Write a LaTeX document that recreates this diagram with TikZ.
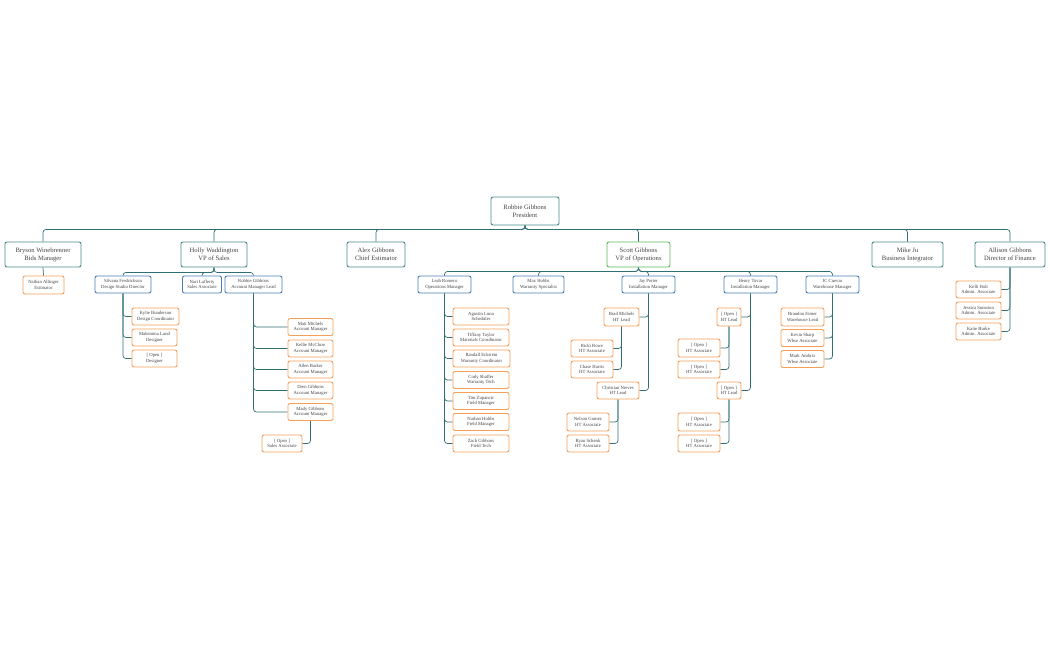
\documentclass[tikz,border=0pt]{standalone}
\usepackage{fontspec}
\setmainfont{Liberation Serif}
\usetikzlibrary{backgrounds}
\definecolor{conn}{HTML}{2F6F73}
\definecolor{tealb}{HTML}{4A8A8C}
\definecolor{blueb}{HTML}{4A7FB5}
\definecolor{orgb}{HTML}{F5A05A}
\definecolor{grnb}{HTML}{5CB85C}
\definecolor{txt}{HTML}{444444}
\tikzset{
 box/.style={draw, fill=white, rounded corners=2pt, line width=0.9pt, align=center, inner sep=0.5pt, text=txt},
 lone/.style={box, draw=tealb, minimum height=25, font=\fontsize{6.6}{8}\selectfont},
 ltwo/.style={box, draw=blueb, minimum height=17, font=\fontsize{4.7}{5.6}\selectfont},
 leaf/.style={box, draw=orgb, minimum height=17, font=\fontsize{4.7}{5.6}\selectfont},
 cn/.style={draw=conn, line width=0.7pt, rounded corners=3pt},
}
\begin{document}
\begin{tikzpicture}[x=1pt,y=-1pt]
\useasboundingbox (0,0) rectangle (1050,650);
\node[lone, minimum width=68, minimum height=28] (pres) at (525,211) {Robbie Gibbons\\President};
\node[lone, minimum width=76] (bry) at (43,254.5) {Bryson Winebrenner\\Bids Manager};
\node[lone, minimum width=66] (hol) at (214,254.5) {Holly Waddington\\VP of Sales};
\node[lone, minimum width=58] (ale) at (376,254.5) {Alex Gibbons\\Chief Estimator};
\node[lone, draw=grnb, minimum width=63] (sco) at (638.5,254.5) {Scott Gibbons\\VP of Operations};
\node[lone, minimum width=71] (mik) at (907.5,254.5) {Mike Ju\\Business Integrator};
\node[lone, minimum width=70] (all) at (1010,254.5) {Allison Gibbons\\Director of Finance};
% Bryson
\node[leaf, minimum width=41, minimum height=18] (nal) at (43.5,285) {Nathan Allinger\\Estimator};
% Holly
\node[ltwo, minimum width=56] (sil) at (123,284.5) {Silvana Fredrickson\\Design Studio Director};
\node[ltwo, minimum width=39] (nar) at (202,284.5) {Nari Lafferty\\Sales Associate};
\node[ltwo, minimum width=57] (rgl) at (253.5,284.5) {Robbie Gibbons\\Account Manager Lead};
\node[leaf, minimum width=47] (kyl) at (155.5,316.5) {Kylie Bunderson\\Design Coordinator};
\node[leaf, minimum width=45] (mak) at (154.5,337.5) {Makennna Lund\\Designer};
\node[leaf, minimum width=45] (opd) at (154.5,358.5) {[ Open ]\\Designer};
\node[leaf, minimum width=45] (mat) at (310.5,327) {Matt Michels\\Account Manager};
\node[leaf, minimum width=45] (kel) at (310.5,348.5) {Kellie McClure\\Account Manager};
\node[leaf, minimum width=45] (aln) at (310.5,369.5) {Allen Barker\\Account Manager};
\node[leaf, minimum width=45] (dre) at (310.5,390.5) {Dren Gibbons\\Account Manager};
\node[leaf, minimum width=45] (mad) at (310.5,412) {Mady Gibbons\\Account Manager};
\node[leaf, minimum width=40] (osa) at (282,443.5) {[ Open ]\\Sales Associate};
% Scott
\node[ltwo, minimum width=53] (lea) at (444.5,284.5) {Leah Romero\\Operations Manager};
\node[ltwo, minimum width=51] (max) at (538.5,284.5) {Max Hobbs\\Warranty Specialist};
\node[ltwo, minimum width=53] (jay) at (648.5,284.5) {Jay Porter\\Installation Manager};
\node[ltwo, minimum width=53] (hen) at (750.5,284.5) {Henry Tovar\\Installation Manager};
\node[ltwo, minimum width=53] (jcc) at (832.5,284.5) {JC Cuevas\\Warehouse Manager};
\node[leaf, minimum width=56] (l1) at (481,316.5) {Agustin Luna\\Scheduler};
\node[leaf, minimum width=56] (l2) at (481,337.5) {Tiffany Taylor\\Materials Coordinator};
\node[leaf, minimum width=57] (l3) at (481.5,358.5) {Randall Eckstein\\Warranty Coordinator};
\node[leaf, minimum width=56] (l4) at (481,380) {Cody Shaffer\\Warranty Tech};
\node[leaf, minimum width=56] (l5) at (481,401) {Tim Zupancic\\Field Manager};
\node[leaf, minimum width=56] (l6) at (481,422) {Nathan Hobbs\\Field Manager};
\node[leaf, minimum width=56] (l7) at (481,443.5) {Zach Gibbons\\Field Tech};
\node[leaf, minimum width=35, minimum height=18] (bra) at (621.5,317) {Brad Michels\\HT Lead};
\node[leaf, minimum width=42] (chr) at (618,390.5) {Christian Nieves\\HT Lead};
\node[leaf, minimum width=42] (ric) at (592,348.5) {Ricki Rowe\\HT Associate};
\node[leaf, minimum width=42] (cha) at (592,369.5) {Chase Harris\\HT Associate};
\node[leaf, minimum width=42, minimum height=18] (nel) at (588,422) {Nelson Gomez\\HT Associate};
\node[leaf, minimum width=42] (rya) at (588,443.5) {Ryan Schenk\\HT Associate};
\node[leaf, minimum width=24, minimum height=18] (oh1) at (729,317) {[ Open ]\\HT Lead};
\node[leaf, minimum width=24] (oh2) at (729,390.5) {[ Open ]\\HT Lead};
\node[leaf, minimum width=42, minimum height=18] (oa1) at (699,348) {[ Open ]\\HT Associate};
\node[leaf, minimum width=42] (oa2) at (699,369.5) {[ Open ]\\HT Associate};
\node[leaf, minimum width=42, minimum height=18] (oa3) at (699,422) {[ Open ]\\HT Associate};
\node[leaf, minimum width=42] (oa4) at (699,443.5) {[ Open ]\\HT Associate};
\node[leaf, minimum width=43, minimum height=18] (bre) at (802.5,317) {Brandon Eimer\\Warehouse Lead};
\node[leaf, minimum width=43] (kev) at (802.5,338) {Kevin Sharp\\Whse Associate};
\node[leaf, minimum width=43] (mar) at (802.5,359) {Mark Ambriz\\Whse Associate};
% Allison
\node[leaf, minimum width=45] (ke) at (978.5,289.5) {Kelli Holt\\Admin. Associate};
\node[leaf, minimum width=45] (je) at (978.5,310.5) {Jessica Sumsion\\Admin. Associate};
\node[leaf, minimum width=45] (ka) at (978.5,331.5) {Katie Burke\\Admin. Associate};
\begin{pgfonlayer}{background}
\foreach \c in {bry,hol,ale,sco,mik,all}{\draw[cn] (pres.south) -- ++(0,4) -| (\c.north);}
\draw[cn] (bry.south) -- (nal.north);
\foreach \c in {sil,nar,rgl}{\draw[cn] (hol.south) -- ++(0,5) -| (\c.north);}
\foreach \c in {kyl,mak,opd}{\draw[cn] (sil.south) |- (\c.west);}
\foreach \c in {mat,kel,aln,dre,mad}{\draw[cn] (rgl.south) |- (\c.west);}
\draw[cn] (mad.south) |- (osa.east);
\foreach \c in {lea,max,jay,hen,jcc}{\draw[cn] (sco.south) -- ++(0,4) -| (\c.north);}
\foreach \c in {l1,l2,l3,l4,l5,l6,l7}{\draw[cn] (lea.south) |- (\c.west);}
\foreach \c in {bra,chr}{\draw[cn] (jay.south) |- (\c.east);}
\foreach \c in {ric,cha}{\draw[cn] (bra.south) |- (\c.east);}
\foreach \c in {nel,rya}{\draw[cn] (chr.south) |- (\c.east);}
\foreach \c in {oh1,oh2}{\draw[cn] (hen.south) |- (\c.east);}
\foreach \c in {oa1,oa2}{\draw[cn] (oh1.south) |- (\c.east);}
\foreach \c in {oa3,oa4}{\draw[cn] (oh2.south) |- (\c.east);}
\foreach \c in {bre,kev,mar}{\draw[cn] (jcc.south) |- (\c.east);}
\foreach \c in {ke,je,ka}{\draw[cn] (all.south) |- (\c.east);}
\end{pgfonlayer}
\end{tikzpicture}
\end{document}
